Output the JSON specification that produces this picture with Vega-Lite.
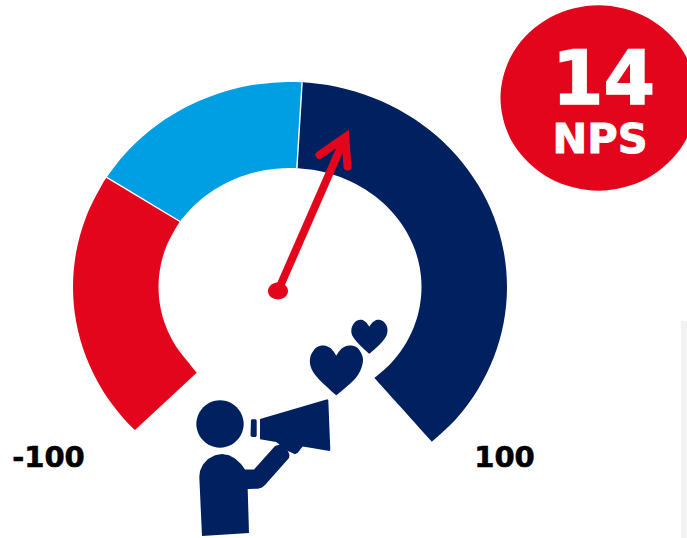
{
"$schema":"https://vega.github.io/schema/vega-lite/v6.json",
"width":687,"height":538,"padding":0,"autosize":{"type":"none"},
"background":"white",
"config":{"view":{"stroke":null}},
"datasets":{
"curve":[
{"s":"navy","x":302.1,"y":82.3},{"s":"navy","x":327.7,"y":85.1},{"s":"navy","x":364.2,"y":94.4},{"s":"navy","x":398.5,"y":109.5},{"s":"navy","x":429.5,"y":130},{"s":"navy","x":456.2,"y":155.2},{"s":"navy","x":477.9,"y":184.5},{"s":"navy","x":493.9,"y":216.9},{"s":"navy","x":503.7,"y":251.4},{"s":"navy","x":507,"y":287},{"s":"navy","x":503.7,"y":322.6},{"s":"navy","x":493.9,"y":357.1},{"s":"navy","x":477.9,"y":389.5},{"s":"navy","x":456.2,"y":418.8},{"s":"navy","x":432,"y":441.7},{"s":"navy","x":432,"y":441.7},
{"s":"navy","x":374.5,"y":378},{"s":"navy","x":374.5,"y":378},{"s":"navy","x":390.7,"y":363.5},{"s":"navy","x":403.9,"y":346.5},{"s":"navy","x":413.6,"y":327.7},{"s":"navy","x":419.5,"y":307.7},{"s":"navy","x":421.5,"y":287},{"s":"navy","x":419.5,"y":266.3},{"s":"navy","x":413.6,"y":246.3},{"s":"navy","x":403.9,"y":227.5},{"s":"navy","x":390.7,"y":210.5},{"s":"navy","x":374.5,"y":195.8},{"s":"navy","x":355.8,"y":183.9},{"s":"navy","x":335,"y":175.2},{"s":"navy","x":312.8,"y":169.8},{"s":"navy","x":296.9,"y":168.2},
{"s":"blue","x":106.7,"y":177.3},{"s":"blue","x":123.8,"y":155.2},{"s":"blue","x":150.5,"y":130},{"s":"blue","x":181.5,"y":109.5},{"s":"blue","x":215.8,"y":94.4},{"s":"blue","x":252.3,"y":85.1},{"s":"blue","x":290,"y":82},{"s":"blue","x":302.1,"y":82.3},{"s":"blue","x":302.1,"y":82.3},
{"s":"blue","x":296.9,"y":168.2},{"s":"blue","x":296.9,"y":168.2},{"s":"blue","x":290,"y":168},{"s":"blue","x":267.2,"y":169.8},{"s":"blue","x":245,"y":175.2},{"s":"blue","x":224.2,"y":183.9},{"s":"blue","x":205.5,"y":195.8},{"s":"blue","x":189.3,"y":210.5},{"s":"blue","x":180,"y":221.5},
{"s":"red","x":135,"y":430},{"s":"red","x":123.8,"y":418.8},{"s":"red","x":102.1,"y":389.5},{"s":"red","x":86.1,"y":357.1},{"s":"red","x":76.3,"y":322.6},{"s":"red","x":73,"y":287},{"s":"red","x":76.3,"y":251.4},{"s":"red","x":86.1,"y":216.9},{"s":"red","x":102.1,"y":184.5},{"s":"red","x":106.7,"y":177.3},{"s":"red","x":106.7,"y":177.3},
{"s":"red","x":180,"y":221.5},{"s":"red","x":180,"y":221.5},{"s":"red","x":176.1,"y":227.5},{"s":"red","x":166.4,"y":246.3},{"s":"red","x":160.5,"y":266.3},{"s":"red","x":158.5,"y":287},{"s":"red","x":160.5,"y":307.7},{"s":"red","x":166.4,"y":327.7},{"s":"red","x":176.1,"y":346.5},{"s":"red","x":189.3,"y":363.5},{"s":"red","x":196.7,"y":372.7}
],
"hearts":[
{"s":"big","x":336.3,"y":395.3},{"s":"big","x":336.3,"y":395.3},{"s":"big","x":316.7,"y":376.7},{"s":"big","x":310.7,"y":366.7},{"s":"big","x":310.4,"y":356.7},{"s":"big","x":316.7,"y":347.3},{"s":"big","x":324,"y":345.5},{"s":"big","x":330.7,"y":348.3},{"s":"big","x":336.3,"y":355.7},{"s":"big","x":336.3,"y":355.7},{"s":"big","x":342,"y":348.3},{"s":"big","x":349.3,"y":345.5},{"s":"big","x":356.7,"y":347.3},{"s":"big","x":362.6,"y":356.7},{"s":"big","x":362.3,"y":365},{"s":"big","x":356.7,"y":376.7},{"s":"big","x":336.3,"y":395.3},
{"s":"small","x":369.3,"y":353.7},{"s":"small","x":369.3,"y":353.7},{"s":"small","x":356.7,"y":341.7},{"s":"small","x":351.7,"y":334},{"s":"small","x":352,"y":326.7},{"s":"small","x":356.7,"y":320.7},{"s":"small","x":361.7,"y":319.8},{"s":"small","x":366,"y":322.3},{"s":"small","x":369.3,"y":326.7},{"s":"small","x":369.3,"y":326.7},{"s":"small","x":372.7,"y":322.3},{"s":"small","x":377.3,"y":319.8},{"s":"small","x":382.7,"y":321},{"s":"small","x":387,"y":326.7},{"s":"small","x":387,"y":334},{"s":"small","x":382.3,"y":341.7},{"s":"small","x":369.3,"y":353.7}
],
"disc":[
{"s":"badge","c":"red","x":696.5,"y":98},{"s":"badge","c":"red","x":683.4,"y":144.35},{"s":"badge","c":"red","x":647.5,"y":178.3},{"s":"badge","c":"red","x":598.5,"y":190.7},{"s":"badge","c":"red","x":549.5,"y":178.3},{"s":"badge","c":"red","x":513.6,"y":144.35},{"s":"badge","c":"red","x":500.5,"y":98},{"s":"badge","c":"red","x":513.6,"y":51.65},{"s":"badge","c":"red","x":549.5,"y":17.7},{"s":"badge","c":"red","x":598.5,"y":5.3},{"s":"badge","c":"red","x":647.5,"y":17.7},{"s":"badge","c":"red","x":683.4,"y":51.65},
{"s":"hub","c":"red","x":288,"y":291},{"s":"hub","c":"red","x":286.7,"y":295.25},{"s":"hub","c":"red","x":283,"y":298.36},{"s":"hub","c":"red","x":278,"y":299.5},{"s":"hub","c":"red","x":273,"y":298.36},{"s":"hub","c":"red","x":269.3,"y":295.25},{"s":"hub","c":"red","x":268,"y":291},{"s":"hub","c":"red","x":269.3,"y":286.75},{"s":"hub","c":"red","x":273,"y":283.64},{"s":"hub","c":"red","x":278,"y":282.5},{"s":"hub","c":"red","x":283,"y":283.64},{"s":"hub","c":"red","x":286.7,"y":286.75},
{"s":"head","c":"navy","x":243.7,"y":424},{"s":"head","c":"navy","x":240.5,"y":435.85},{"s":"head","c":"navy","x":231.85,"y":444.5},{"s":"head","c":"navy","x":220,"y":447.7},{"s":"head","c":"navy","x":208.15,"y":444.5},{"s":"head","c":"navy","x":199.5,"y":435.85},{"s":"head","c":"navy","x":196.3,"y":424},{"s":"head","c":"navy","x":199.5,"y":412.15},{"s":"head","c":"navy","x":208.15,"y":403.5},{"s":"head","c":"navy","x":220,"y":400.3},{"s":"head","c":"navy","x":231.85,"y":403.5},{"s":"head","c":"navy","x":240.5,"y":412.15}
],
"icon":[
{"s":"a_cone","c":"navy","x":260,"y":419},{"s":"a_cone","c":"navy","x":327.3,"y":399.3},{"s":"a_cone","c":"navy","x":328.3,"y":400},{"s":"a_cone","c":"navy","x":330.3,"y":450},{"s":"a_cone","c":"navy","x":329.5,"y":451},{"s":"a_cone","c":"navy","x":260,"y":439.3},
{"s":"b_mouth","c":"navy","x":251,"y":420},{"s":"b_mouth","c":"navy","x":252,"y":419.3},{"s":"b_mouth","c":"navy","x":255.5,"y":419.3},{"s":"b_mouth","c":"navy","x":256.7,"y":420.5},{"s":"b_mouth","c":"navy","x":256.7,"y":436},{"s":"b_mouth","c":"navy","x":255.5,"y":437},{"s":"b_mouth","c":"navy","x":251.8,"y":437},{"s":"b_mouth","c":"navy","x":250.5,"y":435.5},
{"s":"c_handle","c":"navy","x":275,"y":441},{"s":"c_handle","c":"navy","x":303,"y":446},{"s":"c_handle","c":"navy","x":298,"y":452.5},{"s":"c_handle","c":"navy","x":295,"y":454.3},{"s":"c_handle","c":"navy","x":288,"y":451},{"s":"c_handle","c":"navy","x":280,"y":445},
{"s":"d_gap","c":"white","x":279.3,"y":442.3},{"s":"d_gap","c":"white","x":297.3,"y":446.3},{"s":"d_gap","c":"white","x":296,"y":450},{"s":"d_gap","c":"white","x":289.3,"y":449.3},{"s":"d_gap","c":"white","x":280,"y":445.7},
{"s":"e_body","c":"navy","x":202,"y":536},{"s":"e_body","c":"navy","x":199.3,"y":477},{"s":"e_body","c":"navy","x":200,"y":471},{"s":"e_body","c":"navy","x":203,"y":464.5},{"s":"e_body","c":"navy","x":208,"y":459},{"s":"e_body","c":"navy","x":215,"y":455.2},{"s":"e_body","c":"navy","x":222,"y":454},{"s":"e_body","c":"navy","x":229,"y":455.2},{"s":"e_body","c":"navy","x":235,"y":458.5},{"s":"e_body","c":"navy","x":241,"y":464},{"s":"e_body","c":"navy","x":245,"y":469.5},{"s":"e_body","c":"navy","x":254,"y":469.5},{"s":"e_body","c":"navy","x":275,"y":446},{"s":"e_body","c":"navy","x":280,"y":444.5},{"s":"e_body","c":"navy","x":284,"y":446},{"s":"e_body","c":"navy","x":288,"y":451},{"s":"e_body","c":"navy","x":289.5,"y":455},{"s":"e_body","c":"navy","x":289,"y":458},{"s":"e_body","c":"navy","x":265,"y":485},{"s":"e_body","c":"navy","x":262,"y":487.5},{"s":"e_body","c":"navy","x":258,"y":488.7},{"s":"e_body","c":"navy","x":247.7,"y":489},{"s":"e_body","c":"navy","x":249,"y":533}
],
"chevron":[{"x":319.5,"y":155},{"x":345.3,"y":137},{"x":347.5,"y":166.5}]
},
"encoding":{
"x":{"field":"x","type":"quantitative","axis":null,"scale":{"domain":[0,687],"nice":false,"zero":false}},
"y":{"field":"y","type":"quantitative","axis":null,"scale":{"domain":[538,0],"nice":false,"zero":false}}
},
"layer":[
{"data":{"values":[{"x":681,"x2":687,"y":321,"y2":538}]},"mark":{"type":"rect","color":"#f2f2f2"},"encoding":{"x2":{"field":"x2"},"y2":{"field":"y2"}}},
{"data":{"name":"curve"},"mark":{"type":"line","interpolate":"catmull-rom","strokeWidth":0},
 "encoding":{"order":{"value":null},"detail":{"field":"s"},"fill":{"field":"s","type":"nominal","legend":null,"scale":{"domain":["navy","blue","red"],"range":["#002060","#009FE3","#E3051B"]}}}},
{"data":{"values":[{"x":106.7,"y":177.3,"x2":180,"y2":221.5},{"x":302.1,"y":82.3,"x2":296.9,"y2":168.2}]},"mark":{"type":"rule","color":"white","strokeWidth":1.4},"encoding":{"x2":{"field":"x2"},"y2":{"field":"y2"}}},
{"data":{"name":"disc"},"mark":{"type":"line","interpolate":"cardinal-closed","strokeWidth":0,"clip":true},
 "encoding":{"order":{"value":null},"detail":{"field":"s"},"fill":{"field":"c","type":"nominal","legend":null,"scale":{"domain":["navy","red"],"range":["#002060","#E3051B"]}}}},
{"data":{"values":[{"x":278,"y":291,"x2":344,"y2":140}]},"mark":{"type":"rule","color":"#E3051B","strokeWidth":8},"encoding":{"x2":{"field":"x2"},"y2":{"field":"y2"}}},
{"data":{"name":"chevron"},"mark":{"type":"line","color":"#E3051B","strokeWidth":8,"strokeCap":"round","strokeJoin":"miter"},"encoding":{"order":{"value":null}}},
{"data":{"name":"hearts"},"mark":{"type":"line","interpolate":"catmull-rom","strokeWidth":0,"fill":"#002060"},"encoding":{"order":{"value":null},"detail":{"field":"s"}}},
{"data":{"name":"icon"},"mark":{"type":"line","strokeWidth":0},
 "encoding":{"order":{"value":null},"detail":{"field":"s"},"fill":{"field":"c","type":"nominal","legend":null,"scale":{"domain":["navy","white"],"range":["#002060","#ffffff"]}}}},
{"data":{"values":[{"x":603.5,"y":104,"t":"14"}]},"mark":{"type":"text","font":"DejaVu Sans","fontWeight":"bold","fontSize":74,"color":"white","stroke":"white","strokeWidth":1.5,"align":"center","baseline":"alphabetic"},"encoding":{"text":{"field":"t"}}},
{"data":{"values":[{"x":600,"y":152.7,"t":"NPS"}]},"mark":{"type":"text","font":"DejaVu Sans","fontWeight":"bold","fontSize":41.5,"color":"white","stroke":"white","strokeWidth":0.9,"align":"center","baseline":"alphabetic"},"encoding":{"text":{"field":"t"}}},
{"data":{"values":[{"x":48.5,"y":466.7,"t":"-100"},{"x":504.5,"y":466.7,"t":"100"}]},"mark":{"type":"text","font":"DejaVu Sans","fontWeight":"bold","fontSize":29,"color":"black","stroke":"black","strokeWidth":0.6,"align":"center","baseline":"alphabetic"},"encoding":{"text":{"field":"t"}}}
]
}
